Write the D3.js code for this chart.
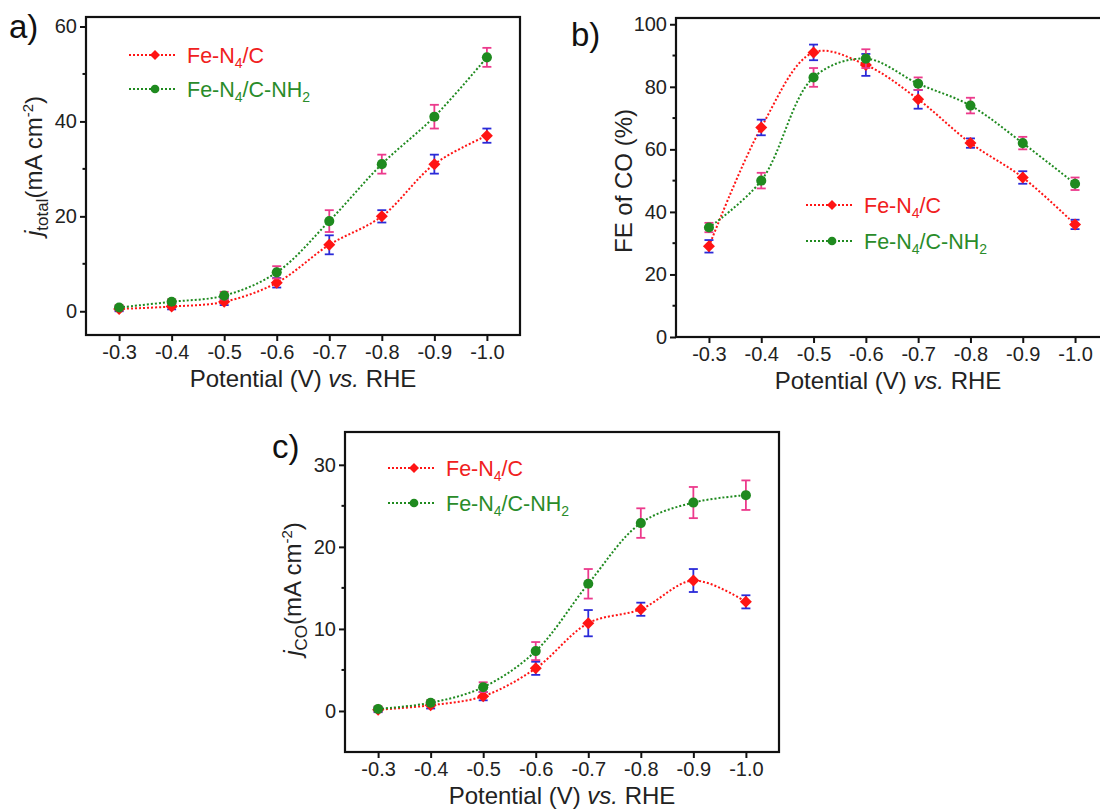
<!DOCTYPE html>
<html><head><meta charset="utf-8">
<script src="https://cdn.jsdelivr.net/npm/d3@7"></script>
<style>
body{margin:0;background:#fff}
svg text{font-family:"Liberation Sans",Arial,Helvetica,sans-serif}
</style>
</head><body>
<svg id="chart" width="1100" height="809"></svg>
<script>
// ---------- data ----------
const potentialLabels = ["-0.3","-0.4","-0.5","-0.6","-0.7","-0.8","-0.9","-1.0"];
const potentials = [-0.3,-0.4,-0.5,-0.6,-0.7,-0.8,-0.9,-1.0];
const seriesNames = ["Fe-N4/C","Fe-N4/C-NH2"];

// a) total current density
const jTotalFeN4C     = [0.5, 1.0, 2.0, 6.0, 14.0, 20.0, 31.0, 37.0];
const jTotalFeN4CErr  = [0.5, 0.6, 0.7, 1.0, 2.0, 1.3, 2.0, 1.5];
const jTotalNH2       = [0.8, 2.0, 3.3, 8.2, 19.0, 31.0, 41.0, 53.5];
const jTotalNH2Err    = [0.5, 0.5, 0.8, 1.3, 2.3, 2.0, 2.5, 2.0];

// b) Faradaic efficiency of CO
const feFeN4C    = [29, 67, 91, 87, 76, 62, 51, 36];
const feFeN4CErr = [2.0, 2.5, 2.5, 3.5, 3.0, 1.5, 2.0, 1.5];
const feNH2      = [35, 50, 83, 89, 81, 74, 62, 49];
const feNH2Err   = [1.5, 2.5, 3.0, 3.0, 2.0, 2.5, 2.0, 2.0];

// c) CO partial current density
const jCOFeN4C    = [0.15, 0.7, 1.8, 5.2, 10.7, 12.4, 15.9, 13.3];
const jCOFeN4CErr = [0.3, 0.4, 0.5, 0.8, 1.6, 0.8, 1.4, 0.8];
const jCONH2      = [0.25, 1.0, 2.9, 7.3, 15.5, 22.9, 25.4, 26.3];
const jCONH2Err   = [0.3, 0.3, 0.6, 1.1, 1.8, 1.8, 1.9, 1.8];

// tick values
const ticksA = [0, 20, 40, 60], minorA = [10, 30, 50];
const ticksB = [0, 20, 40, 60, 80, 100], minorB = [10, 30, 50, 70, 90];
const ticksC = [0, 10, 20, 30], minorC = [5, 15, 25];

// ---------- styles ----------
const RED = "#ff1414", GREEN = "#1f8a1f", BLUE_ERR = "#2a2ad8", PINK_ERR = "#ec3a8c";
const RED_TXT = "#f02020", GREEN_TXT = "#2a8c2a";

const svg = d3.select("#chart");
svg.append("rect").attr("width",1100).attr("height",809).attr("fill","#fff");

const diamondPath = "M0,-6L6,0L0,6L-6,0Z";
const diamondSmall = "M0,-5L5,0L0,5L-5,0Z";

function drawPanel(cfg){
  const g = svg.append("g");
  const x = d3.scaleLinear().domain([-0.237, -1.063]).range([cfg.left, cfg.right]);
  const y = d3.scaleLinear().domain(cfg.yDomain).range([cfg.bottom, cfg.top]);

  // frame
  g.append("rect").attr("x",cfg.left).attr("y",cfg.top)
    .attr("width",cfg.right-cfg.left).attr("height",cfg.bottom-cfg.top)
    .attr("fill","none").attr("stroke","#111").attr("stroke-width",2.2);

  // y axis major
  const ya = g.append("g").attr("transform",`translate(${cfg.left},0)`)
    .call(d3.axisLeft(y).tickValues(cfg.ticks).tickSize(6).tickSizeOuter(0).tickPadding(3).tickFormat(d3.format("d")));
  ya.select(".domain").remove();
  ya.selectAll("line").attr("stroke","#111").attr("stroke-width",2);
  ya.selectAll("text").attr("font-size",20).attr("fill","#222");
  // y axis minor
  g.selectAll(null).data(cfg.minor).enter().append("line")
    .attr("x1",cfg.left-3.5).attr("x2",cfg.left).attr("y1",d=>y(d)).attr("y2",d=>y(d))
    .attr("stroke","#111").attr("stroke-width",2);

  // x axis
  const xa = g.append("g").attr("transform",`translate(0,${cfg.bottom})`)
    .call(d3.axisBottom(x).tickValues(potentials).tickSize(6).tickSizeOuter(0).tickPadding(4)
      .tickFormat((d,i)=>potentialLabels[i]));
  xa.select(".domain").remove();
  xa.selectAll("line").attr("stroke","#111").attr("stroke-width",2);
  xa.selectAll("text").attr("font-size",20).attr("fill","#222");

  // x title
  const xt = g.append("text").attr("x",(cfg.left+cfg.right)/2 - (cfg.right>1100?4:0)).attr("y",cfg.bottom+52)
    .attr("text-anchor","middle").attr("font-size",24).attr("fill","#222");
  xt.append("tspan").text("Potential (V) ");
  xt.append("tspan").attr("font-style","italic").text("vs.");
  xt.append("tspan").text(" RHE");

  // y title
  const yt = g.append("text").attr("transform",`translate(${cfg.left-44},${cfg.yTitleY}) rotate(-90)`)
    .attr("text-anchor","middle").attr("font-size",24).attr("fill","#222");
  cfg.yTitle(yt);

  // panel label
  g.append("text").attr("x",cfg.labelX).attr("y",cfg.labelY).attr("font-size",33).attr("fill","#111").text(cfg.label);

  const line = d3.line().x((d,i)=>x(potentials[i])).y(d=>y(d)).curve(d3.curveCatmullRom.alpha(0.5));

  const series = [
    {vals:cfg.red, err:cfg.redErr, color:RED, errColor:BLUE_ERR, shape:"diamond"},
    {vals:cfg.green, err:cfg.greenErr, color:GREEN, errColor:PINK_ERR, shape:"circle"}
  ];
  series.forEach(s=>{
    g.append("path").datum(s.vals).attr("d",line).attr("fill","none")
      .attr("stroke",s.color).attr("stroke-width",2).attr("stroke-dasharray","2,2");
  });
  series.forEach(s=>{
    // error bars
    const eb = g.append("g").attr("stroke",s.errColor).attr("stroke-width",1.8);
    s.vals.forEach((v,i)=>{
      const cx = x(potentials[i]), y1 = y(v - s.err[i]), y2 = y(v + s.err[i]);
      eb.append("line").attr("x1",cx).attr("x2",cx).attr("y1",y1).attr("y2",y2);
      eb.append("line").attr("x1",cx-4.5).attr("x2",cx+4.5).attr("y1",y1).attr("y2",y1);
      eb.append("line").attr("x1",cx-4.5).attr("x2",cx+4.5).attr("y1",y2).attr("y2",y2);
    });
    // markers
    const mk = g.selectAll(null).data(s.vals).enter().append("path")
      .attr("transform",(d,i)=>`translate(${x(potentials[i])},${y(d)})`)
      .attr("fill",s.color);
    if(s.shape==="diamond") mk.attr("d",diamondPath);
    else mk.attr("d",d3.symbol().type(d3.symbolCircle).size(80));
  });

  // legend
  const leg = [
    {name:seriesNames[0], color:RED, txt:RED_TXT, shape:"diamond", yy:cfg.legY[0]},
    {name:seriesNames[1], color:GREEN, txt:GREEN_TXT, shape:"circle", yy:cfg.legY[1]}
  ];
  leg.forEach(l=>{
    g.append("line").attr("x1",cfg.legX).attr("x2",cfg.legX+47).attr("y1",l.yy).attr("y2",l.yy)
      .attr("stroke",l.color).attr("stroke-width",2).attr("stroke-dasharray","2,2");
    const m = g.append("path").attr("transform",`translate(${cfg.legX+26},${l.yy})`).attr("fill",l.color);
    if(l.shape==="diamond") m.attr("d",diamondSmall);
    else m.attr("d",d3.symbol().type(d3.symbolCircle).size(60));
    const t = g.append("text").attr("x",cfg.legX+58).attr("y",l.yy+7.5).attr("font-size",21.5).attr("fill",l.txt);
    const parts = l.name.match(/^(Fe-N)(4)(\/C)(-NH)?(2)?$/);
    t.append("tspan").text(parts[1]);
    t.append("tspan").attr("font-size",14).attr("dy",5).text(parts[2]);
    t.append("tspan").attr("dy",-5).text(parts[3]);
    if(parts[4]){
      t.append("tspan").text(parts[4]);
      t.append("tspan").attr("font-size",14).attr("dy",5).text(parts[5]);
    }
  });
}

function jTitle(sub){
  return function(t){
    t.append("tspan").attr("font-style","italic").text("j");
    t.append("tspan").attr("font-size",17).attr("dy",6).text(sub);
    t.append("tspan").attr("dy",-6).text("(mA cm");
    t.append("tspan").attr("font-size",15).attr("dy",-9).text("-2");
    t.append("tspan").attr("dy",9).text(")");
  };
}

drawPanel({left:86, right:520, top:17, bottom:335, yDomain:[-5,62], ticks:ticksA, minor:minorA,
  red:jTotalFeN4C, redErr:jTotalFeN4CErr, green:jTotalNH2, greenErr:jTotalNH2Err,
  yTitle:jTitle("total"), yTitleY:166, label:"a)", labelX:9, labelY:38,
  legX:129, legY:[55,89]});

drawPanel({left:676, right:1108, top:18, bottom:337, yDomain:[0,102], ticks:ticksB, minor:minorB,
  red:feFeN4C, redErr:feFeN4CErr, green:feNH2, greenErr:feNH2Err,
  yTitle:t=>t.text("FE of CO (%)"), yTitleY:181, label:"b)", labelX:571, labelY:46,
  legX:806, legY:[205,241]});

drawPanel({left:345, right:779, top:432, bottom:752, yDomain:[-5,34], ticks:ticksC, minor:minorC,
  red:jCOFeN4C, redErr:jCOFeN4CErr, green:jCONH2, greenErr:jCONH2Err,
  yTitle:jTitle("CO"), yTitleY:589, label:"c)", labelX:272, labelY:458,
  legX:388, legY:[468,503]});
</script>
</body></html>
